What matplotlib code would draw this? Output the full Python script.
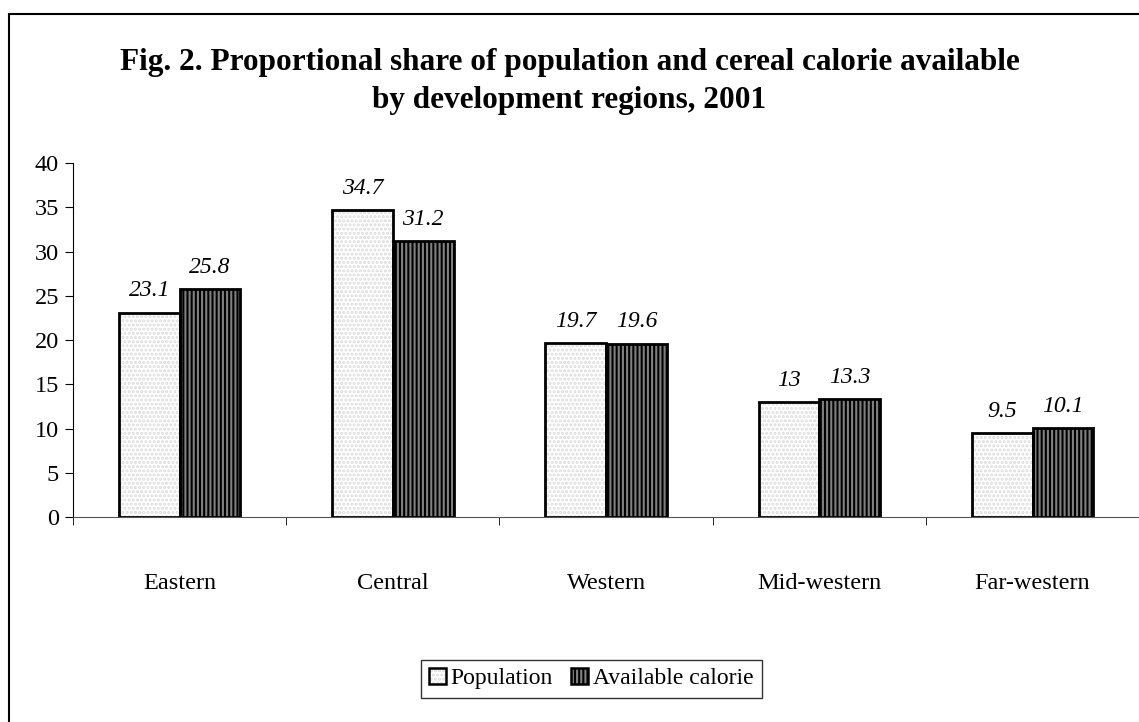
import matplotlib
matplotlib.use('Agg')
import matplotlib.pyplot as plt
import matplotlib.patches as mpatches
import numpy as np

# data
regions = ['Eastern', 'Central', 'Western', 'Mid-western', 'Far-western']
population = [23.1, 34.7, 19.7, 13, 9.5]
calorie = [25.8, 31.2, 19.6, 13.3, 10.1]
pop_labels = ['23.1', '34.7', '19.7', '13', '9.5']
cal_labels = ['25.8', '31.2', '19.6', '13.3', '10.1']

plt.rcParams['font.family'] = ['Liberation Serif', 'DejaVu Serif']
plt.rcParams['hatch.linewidth'] = 1.5

fig = plt.figure(figsize=(11.39, 7.22), dpi=100)
ax = fig.add_axes([0.0641, 0.2839, 0.936, 0.4903])

x = np.arange(len(regions))
w = 0.285

# fill patterns first, outlines on top
ax.bar(x - w / 2, population, w, color='white', edgecolor='#dcdcdc', hatch='....', linewidth=0)
ax.bar(x + w / 2, calorie, w, color='black', edgecolor='#808080', hatch='||||', linewidth=0)
ax.bar(x - w / 2, population, w, fill=False, edgecolor='black', linewidth=2)
ax.bar(x + w / 2, calorie, w, fill=False, edgecolor='black', linewidth=2)

for i in range(len(regions)):
    ax.annotate(pop_labels[i], (x[i] - w / 2, population[i]), xytext=(0, 8),
                textcoords='offset points', ha='center', va='bottom',
                fontsize=17, style='italic')
    ax.annotate(cal_labels[i], (x[i] + w / 2, calorie[i]), xytext=(0, 8),
                textcoords='offset points', ha='center', va='bottom',
                fontsize=17, style='italic')

ax.set_xlim(-0.5, 4.5)
ax.set_ylim(0, 40)
ax.set_yticks(range(0, 41, 5))
ax.set_xticks(x)
ax.set_xticklabels(regions)
ax.set_xticks(np.arange(-0.5, 4.6, 1), minor=True)
ax.tick_params(axis='x', which='major', length=0, pad=40, labelsize=17.5)
ax.tick_params(axis='x', which='minor', length=6, direction='out')
ax.tick_params(axis='y', length=6, direction='out', labelsize=17.5, pad=4)

for s in ['top', 'right']:
    ax.spines[s].set_visible(False)
ax.spines['left'].set_color('black')
ax.spines['bottom'].set_color('#555555')

fig.text(0.5, 0.914, 'Fig. 2. Proportional share of population and cereal calorie available',
         ha='center', va='center', fontsize=22.5, fontweight='bold')
fig.text(0.5, 0.861, 'by development regions, 2001',
         ha='center', va='center', fontsize=22.5, fontweight='bold')

# legend keys: pattern + black outline
h1 = (mpatches.Patch(facecolor='white', edgecolor='#dcdcdc', hatch='....', linewidth=0),
      mpatches.Patch(fill=False, edgecolor='black', linewidth=1.8))
h2 = (mpatches.Patch(facecolor='black', edgecolor='#808080', hatch='||||', linewidth=0),
      mpatches.Patch(fill=False, edgecolor='black', linewidth=1.8))
leg = fig.legend([h1, h2], ['Population', 'Available calorie'], loc='center',
                 bbox_to_anchor=(0.519, 0.06), ncol=2, fontsize=17, frameon=True,
                 fancybox=False, edgecolor='black', handlelength=0.7, handleheight=0.7,
                 handletextpad=0.2, columnspacing=0.8, borderpad=0.35)
leg.get_frame().set_linewidth(1)

# border around the chart area
border = mpatches.Rectangle((9 / 1139, -0.1), 1.2, 0.98 + 0.1, transform=fig.transFigure,
                            fill=False, edgecolor='black', linewidth=1.5, clip_on=False)
fig.patches.append(border)

plt.savefig('out.png', dpi=100)
